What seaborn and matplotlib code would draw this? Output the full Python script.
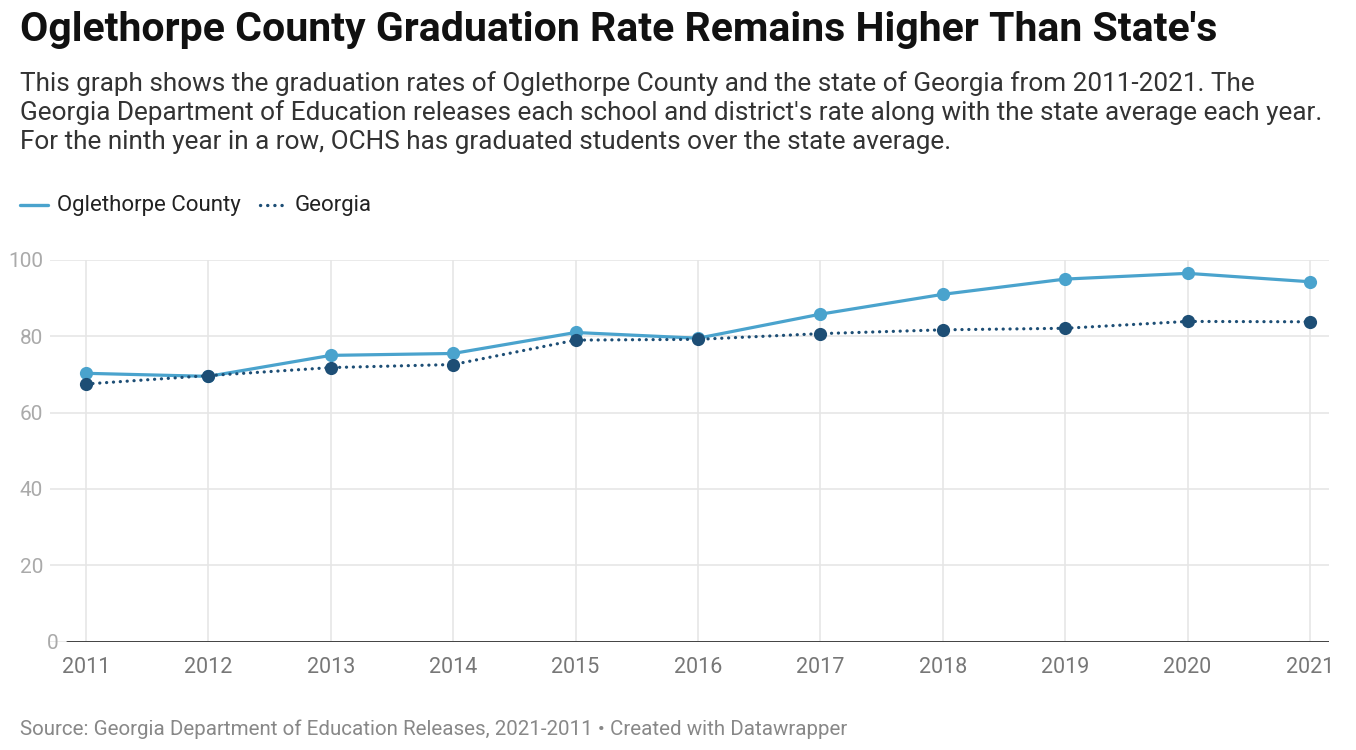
import pandas as pd
import matplotlib.pyplot as plt
import matplotlib.transforms as mtransforms
import seaborn as sns

years = [2011, 2012, 2013, 2014, 2015, 2016, 2017, 2018, 2019, 2020, 2021]
oglethorpe = [70.3, 69.5, 75.0, 75.5, 81.0, 79.5, 85.8, 91.0, 95.0, 96.5, 94.3]
georgia = [67.5, 69.7, 71.8, 72.6, 79.0, 79.2, 80.7, 81.7, 82.1, 83.9, 83.8]
y_ticks = [0, 20, 40, 60, 80, 100]

df = pd.DataFrame({'year': years, 'Oglethorpe County': oglethorpe, 'Georgia': georgia})
long_df = df.melt(id_vars='year', var_name='area', value_name='rate')

light = '#4aa3cd'
dark = '#1d4e75'
dot_dash = (0.05, 2.1)

sns.set_theme(style='white')
plt.rcParams['font.family'] = ['Roboto', 'DejaVu Sans']

fig = plt.figure(figsize=(13.56, 7.5), dpi=100)
W, H = 1356, 750
ax = fig.add_axes([50 / W, 1 - 641.5 / H, (1329 - 50) / W, (641.5 - 260) / H])

sns.lineplot(data=long_df, x='year', y='rate', hue='area', style='area',
             palette={'Oglethorpe County': light, 'Georgia': dark},
             dashes={'Oglethorpe County': '', 'Georgia': dot_dash},
             markers={'Oglethorpe County': 'o', 'Georgia': 'o'},
             markersize=9.5, markeredgewidth=0, linewidth=2.3,
             legend=False, ax=ax, zorder=3)
# round caps so the dotted line reads as dots
for line in ax.lines:
    line.set_dash_capstyle('round')
    line.set_solid_capstyle('round')

ax.set_xlim(2011 - 36 / 122.4, 2021 + 19 / 122.4)
ax.set_ylim(0, 100)
ax.set_xticks(years)
ax.set_yticks(y_ticks)
ax.set_xticklabels([str(y) for y in years])
ax.set_xlabel('')
ax.set_ylabel('')
for s in ax.spines.values():
    s.set_visible(False)
ax.grid(True, color='#e6e6e6', linewidth=1.2, zorder=0)
ax.axhline(0, xmin=17 / (1329 - 50), xmax=1, color='#333333', linewidth=2, zorder=4)
ax.tick_params(axis='y', length=0, pad=5, labelsize=15, labelcolor='#aaaaaa')
ax.tick_params(axis='x', length=0, pad=11, labelsize=15.5, labelcolor='#777777')
ylab = ax.get_yticklabels()[0]
ylab.set_transform(ylab.get_transform() + mtransforms.ScaledTranslation(15 / 100, 0, fig.dpi_scale_trans))

fig.text(20 / W, 1 - 30 / H, "Oglethorpe County Graduation Rate Remains Higher Than State's",
         fontsize=29.5, fontweight='bold', color='#111111', va='center', ha='left')
subtitle = ("This graph shows the graduation rates of Oglethorpe County and the state of Georgia from 2011-2021. The\n"
            "Georgia Department of Education releases each school and district's rate along with the state average each year.\n"
            "For the ninth year in a row, OCHS has graduated students over the state average.")
fig.text(20 / W, 1 - 71 / H, subtitle, fontsize=18.8, color='#333333', va='top', ha='left', linespacing=1.23)

# legend
fig.lines.append(plt.Line2D([20 / W, 48 / W], [1 - 205 / H] * 2, color=light, linewidth=2.4,
                            solid_capstyle='round', transform=fig.transFigure))
fig.lines.append(plt.Line2D([260 / W, 286 / W], [1 - 205 / H] * 2, color=dark, linewidth=2.4,
                            linestyle=(0, dot_dash), dash_capstyle='round', transform=fig.transFigure))
fig.text(57 / W, 1 - 205 / H, 'Oglethorpe County', fontsize=16, color='#222222', va='center', ha='left')
fig.text(295 / W, 1 - 205 / H, 'Georgia', fontsize=16, color='#222222', va='center', ha='left')

fig.text(20 / W, 1 - 729 / H, 'Source: Georgia Department of Education Releases, 2021-2011 \u2022 Created with Datawrapper',
         fontsize=14.8, color='#888888', va='center', ha='left')

fig.savefig('out.png', dpi=100)
